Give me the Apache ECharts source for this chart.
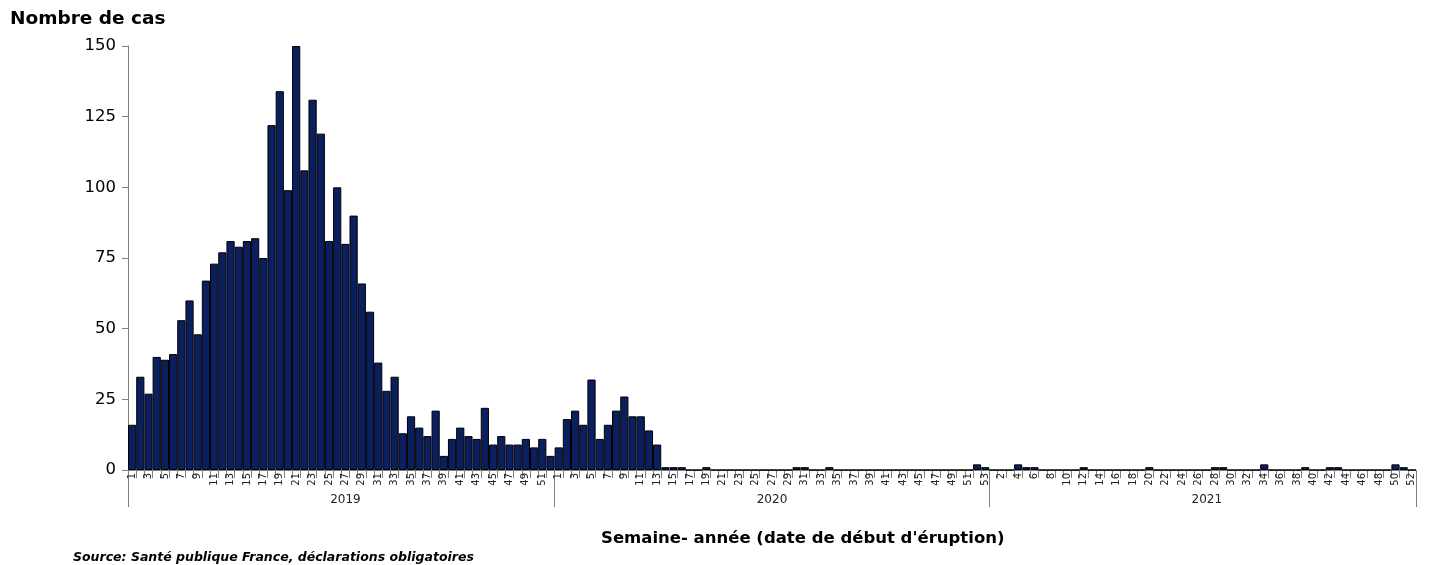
<!DOCTYPE html>
<html><head><meta charset="utf-8">
<script src="https://cdn.jsdelivr.net/npm/echarts@6/dist/echarts.min.js"></script>
<style>html,body{margin:0;padding:0;background:#fff}#c{width:1429px;height:565px}</style>
</head><body><div id="c"></div>
<script>
// Weekly case counts (week of rash onset)
const cases2019 = [16,33,27,40,39,41,53,60,48,67,73,77,81,79,81,82,75,122,134,99,150,106,131,119,81,100,80,90,66,56,38,28,33,13,19,15,12,21,5,11,15,12,11,22,9,12,9,9,11,8,11,5];
const cases2020 = [8,18,21,16,32,11,16,21,26,19,19,14,9,1,1,1,0,0,1,0,0,0,0,0,0,0,0,0,0,1,1,0,0,1,0,0,0,0,0,0,0,0,0,0,0,0,0,0,0,0,0,2,1];
const cases2021 = [0,0,0,2,1,1,0,0,0,0,0,1,0,0,0,0,0,0,0,1,0,0,0,0,0,0,0,1,1,0,0,0,0,2,0,0,0,0,1,0,0,1,1,0,0,0,0,0,0,2,1,0];
const years = ['2019','2020','2021'];
const yearCases = [cases2019, cases2020, cases2021];
const yMin = 0, yMax = 150, yStep = 25;

const categories = [];
const weekLabels = [];
const values = [];
const yearStart = [];
const yearMid = {};
yearCases.forEach((arr, yi) => {
  yearStart.push(categories.length);
  yearMid[categories.length + Math.floor(arr.length / 2)] = years[yi];
  arr.forEach((v, wi) => {
    categories.push(years[yi] + '-' + (wi + 1));
    weekLabels.push(String(wi + 1));
    values.push(v);
  });
});

const FONT = 'DejaVu Sans';
const chart = echarts.init(document.getElementById('c'));
chart.setOption({
  animation: false,
  backgroundColor: '#fff',
  title: [
    {text: 'Nombre de cas', left: 5, top: 5,
     textStyle: {fontFamily: FONT, fontSize: 18.5, fontWeight: 'bold', color: '#000'}},
    {text: "Semaine- année (date de début d'éruption)", left: 596, top: 525,
     textStyle: {fontFamily: FONT, fontSize: 16.5, fontWeight: 'bold', color: '#000'}},
    {text: 'Source: Santé publique France, déclarations obligatoires', left: 68, top: 546,
     textStyle: {fontFamily: FONT, fontSize: 12.5, fontWeight: 'bold', fontStyle: 'italic', color: '#000'}}
  ],
  grid: {left: 128, right: 13, top: 46, bottom: 95, containLabel: false},
  xAxis: [
    {
      type: 'category', data: categories, position: 'bottom',
      axisLine: {show: true, lineStyle: {color: '#808080', width: 1}},
      axisTick: {show: true, interval: 0, length: 8, lineStyle: {color: '#808080'}},
      axisLabel: {interval: 1, rotate: 90, margin: 3, fontSize: 10, fontFamily: FONT, color: '#222',
        formatter: (v, i) => weekLabels[i]}
    },
    {
      type: 'category', data: categories, position: 'bottom', offset: 0,
      axisLine: {show: false},
      axisTick: {show: true, length: 37, lineStyle: {color: '#808080'},
        interval: (i) => yearStart.indexOf(i) >= 0},
      axisLabel: {margin: 24, fontSize: 12, fontFamily: FONT, color: '#222',
        interval: (i) => yearMid[i] !== undefined,
        formatter: (v, i) => yearMid[i] || ''}
    }
  ],
  yAxis: {
    type: 'value', min: yMin, max: yMax, interval: yStep,
    axisLine: {show: true, lineStyle: {color: '#808080'}},
    axisTick: {show: true, length: 6, lineStyle: {color: '#808080'}},
    splitLine: {show: false},
    axisLabel: {fontSize: 16.5, fontFamily: FONT, color: '#000', margin: 12}
  },
  series: [{
    type: 'bar', data: values, xAxisIndex: 0, barCategoryGap: '0%',
    itemStyle: {color: '#0b1f5e', borderColor: '#000', borderWidth: 1}
  }]
});
</script></body></html>
